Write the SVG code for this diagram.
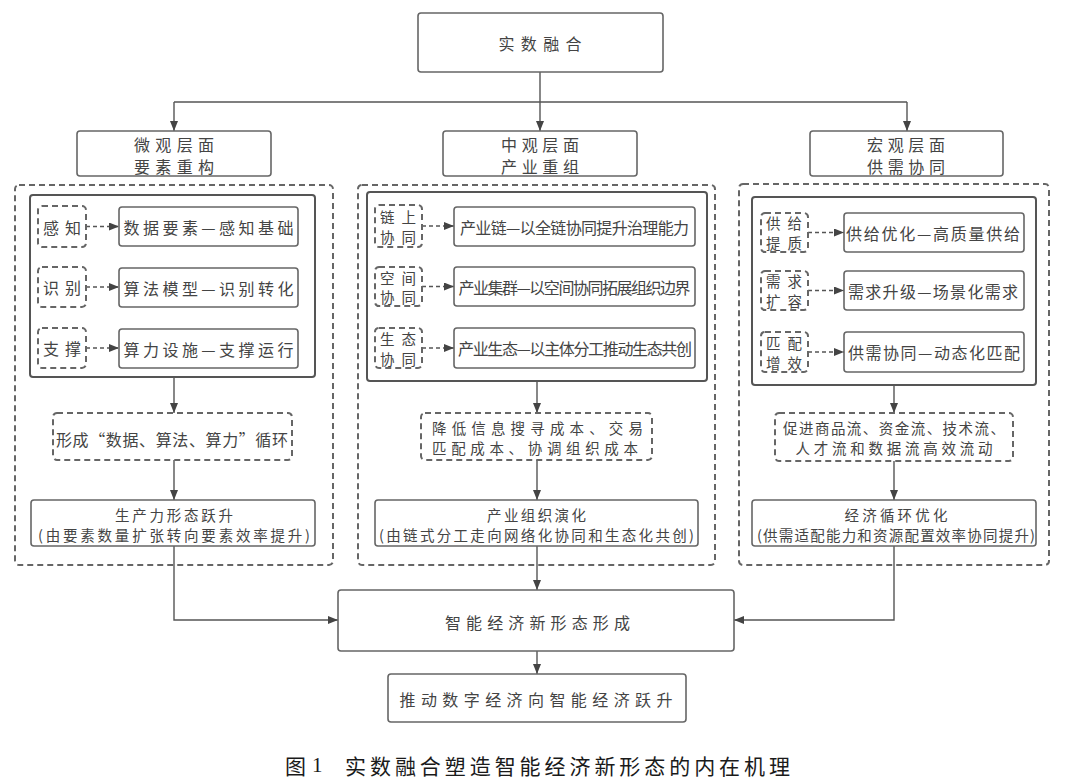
<svg xmlns="http://www.w3.org/2000/svg" width="1080" height="782" viewBox="0 0 1080 782">
<defs>
<marker id="ah" markerWidth="10" markerHeight="8" refX="10" refY="4" orient="auto" markerUnits="userSpaceOnUse"><path d="M0,0 L10,4 L0,8 Z" fill="#444"/></marker>
<style>
.t{font-family:"Noto Sans CJK SC","Noto Sans",sans-serif;fill:#444;font-size:16px;text-anchor:middle;dominant-baseline:central}
.t2{font-size:14.5px}
.s{fill:#fff;stroke:#666;stroke-width:1.6}
.in{fill:none;stroke:#555;stroke-width:2}
.d{fill:none;stroke:#666;stroke-width:2;stroke-dasharray:6 4}
.c{fill:none;stroke:#555;stroke-width:1.4}
.cd{fill:none;stroke:#555;stroke-width:1.4;stroke-dasharray:4 3}
.cap{font-family:"Noto Sans CJK SC","Noto Sans",sans-serif;fill:#1a1a1a;font-size:21px;dominant-baseline:central}
</style>
</defs>
<rect width="1080" height="782" fill="#fff"/>

<g id="connectors">
<path class="c" d="M540,72 V102"/>
<path class="c" d="M174,102 H907"/>
<path class="c" d="M174,102 V131" marker-end="url(#ah)"/>
<path class="c" d="M540,102 V131" marker-end="url(#ah)"/>
<path class="c" d="M907,102 V131" marker-end="url(#ah)"/>
<path class="cd" d="M86,226.5 H119" marker-end="url(#ah)"/>
<path class="cd" d="M86,287 H119" marker-end="url(#ah)"/>
<path class="cd" d="M86,348 H119" marker-end="url(#ah)"/>
<path class="c" d="M174,377 V413" marker-end="url(#ah)"/>
<path class="c" d="M174,460 V500" marker-end="url(#ah)"/>
<path class="c" d="M174,546 V620 H338" marker-end="url(#ah)"/>
<path class="cd" d="M422,226 H454" marker-end="url(#ah)"/>
<path class="cd" d="M422,286.5 H454" marker-end="url(#ah)"/>
<path class="cd" d="M422,348 H454" marker-end="url(#ah)"/>
<path class="c" d="M537,381 V413" marker-end="url(#ah)"/>
<path class="c" d="M537,460 V500" marker-end="url(#ah)"/>
<path class="c" d="M537,546 V590" marker-end="url(#ah)"/>
<path class="cd" d="M808,232.5 H844" marker-end="url(#ah)"/>
<path class="cd" d="M808,290.5 H844" marker-end="url(#ah)"/>
<path class="cd" d="M808,352 H844" marker-end="url(#ah)"/>
<path class="c" d="M894,385 V413" marker-end="url(#ah)"/>
<path class="c" d="M894,461 V500" marker-end="url(#ah)"/>
<path class="c" d="M894,546 V620 H734" marker-end="url(#ah)"/>
<path class="c" d="M537,651 V674" marker-end="url(#ah)"/>
</g>

<g id="top">
<rect class="s" x="418" y="13" width="245" height="59" rx="3"/>
<text class="t" x="540" y="43" textLength="83">实数融合</text>
</g>

<g id="micro-head">
<rect class="s" x="77" y="131" width="194" height="45" rx="3"/>
<text class="t" x="174" y="144" font-size="15.5" textLength="80">微观层面</text>
<text class="t" x="174" y="166" font-size="15.5" textLength="80">要素重构</text>
</g>
<g id="meso-head">
<rect class="s" x="443" y="131" width="194" height="45" rx="3"/>
<text class="t" x="540" y="144" font-size="15.5" textLength="78">中观层面</text>
<text class="t" x="540" y="166" font-size="15.5" textLength="78">产业重组</text>
</g>
<g id="macro-head">
<rect class="s" x="810" y="131" width="193" height="45" rx="3"/>
<text class="t" x="906" y="144" font-size="15.5" textLength="78">宏观层面</text>
<text class="t" x="906" y="166" font-size="15.5" textLength="78">供需协同</text>
</g>

<g id="micro">
<rect class="d" x="15" y="185" width="318" height="380" rx="4"/>
<rect class="in" x="30" y="195" width="285" height="182" rx="3"/>
<g id="m1"><rect class="d" x="38" y="206" width="48" height="41" rx="4"/><text class="t" x="62" y="226.5" textLength="38">感知</text></g>
<g id="m1b"><rect class="s" x="119" y="207" width="179" height="39" rx="3"/><text class="t" x="208.5" y="226.5" textLength="170">数据要素—感知基础</text></g>
<g id="m2"><rect class="d" x="38" y="267" width="48" height="40" rx="4"/><text class="t" x="62" y="287" textLength="38">识别</text></g>
<g id="m2b"><rect class="s" x="119" y="268" width="179" height="39" rx="3"/><text class="t" x="208.5" y="287.5" textLength="170">算法模型—识别转化</text></g>
<g id="m3"><rect class="d" x="38" y="328" width="48" height="40" rx="4"/><text class="t" x="62" y="348" textLength="38">支撑</text></g>
<g id="m3b"><rect class="s" x="119" y="329" width="179" height="39" rx="3"/><text class="t" x="208.5" y="348.5" textLength="170">算力设施—支撑运行</text></g>
<g id="m4"><rect class="d" x="53" y="413" width="239" height="47" rx="4"/><text class="t" x="172" y="439" textLength="232">形成“数据、算法、算力”循环</text></g>
<g id="m5"><rect class="s" x="31" y="500" width="284" height="46" rx="3"/>
<text class="t t2" x="174" y="514" textLength="118">生产力形态跃升</text>
<text class="t t2" x="174" y="534" textLength="272">(由要素数量扩张转向要素效率提升)</text></g>
</g>

<g id="meso">
<rect class="d" x="358" y="185" width="357" height="380" rx="4"/>
<rect class="in" x="367" y="192" width="340" height="189" rx="3"/>
<g id="z1"><rect class="d" x="375" y="205" width="47" height="42" rx="4"/><text class="t t2" x="398" y="216" textLength="36">链上</text><text class="t t2" x="398" y="236" textLength="36">协同</text></g>
<g id="z1b"><rect class="s" x="454" y="207" width="241" height="39" rx="3"/><text class="t" x="574.5" y="226.5" font-size="15" textLength="229">产业链—以全链协同提升治理能力</text></g>
<g id="z2"><rect class="d" x="375" y="267" width="47" height="39" rx="4"/><text class="t t2" x="398" y="277" textLength="36">空间</text><text class="t t2" x="398" y="296.5" textLength="36">协同</text></g>
<g id="z2b"><rect class="s" x="454" y="267" width="241" height="39" rx="3"/><text class="t" x="574.5" y="286.5" font-size="15" textLength="232">产业集群—以空间协同拓展组织边界</text></g>
<g id="z3"><rect class="d" x="375" y="328" width="47" height="40" rx="4"/><text class="t t2" x="398" y="338.5" textLength="36">生态</text><text class="t t2" x="398" y="358.5" textLength="36">协同</text></g>
<g id="z3b"><rect class="s" x="454" y="328" width="241" height="40" rx="3"/><text class="t" x="575" y="348" font-size="15" textLength="234">产业生态—以主体分工推动生态共创</text></g>
<g id="z4"><rect class="d" x="421" y="413" width="231" height="47" rx="4"/>
<text class="t t2" x="432" y="427" style="text-anchor:start" textLength="211">降低信息搜寻成本、交易</text>
<text class="t t2" x="432" y="447.5" style="text-anchor:start" textLength="206">匹配成本、协调组织成本</text></g>
<g id="z5"><rect class="s" x="375" y="500" width="323" height="46" rx="3"/>
<text class="t t2" x="536.5" y="514" textLength="99">产业组织演化</text>
<text class="t t2" x="536.5" y="534" textLength="315">(由链式分工走向网络化协同和生态化共创)</text></g>
</g>

<g id="macro">
<rect class="d" x="739" y="184" width="310" height="381" rx="4"/>
<rect class="in" x="752" y="197" width="284" height="188" rx="3"/>
<g id="h1"><rect class="d" x="761" y="213" width="47" height="39" rx="4"/><text class="t t2" x="784" y="222.5" textLength="36">供给</text><text class="t t2" x="784" y="242.5" textLength="36">提质</text></g>
<g id="h1b"><rect class="s" x="844" y="213" width="180" height="39" rx="3"/><text class="t" x="933" y="232.5" textLength="174">供给优化—高质量供给</text></g>
<g id="h2"><rect class="d" x="761" y="271" width="47" height="39" rx="4"/><text class="t t2" x="784" y="280.5" textLength="36">需求</text><text class="t t2" x="784" y="300.5" textLength="36">扩容</text></g>
<g id="h2b"><rect class="s" x="844" y="271" width="180" height="39" rx="3"/><text class="t" x="933" y="290.5" textLength="170">需求升级—场景化需求</text></g>
<g id="h3"><rect class="d" x="761" y="332" width="47" height="40" rx="4"/><text class="t t2" x="784" y="342" textLength="36">匹配</text><text class="t t2" x="784" y="362" textLength="36">增效</text></g>
<g id="h3b"><rect class="s" x="844" y="332" width="180" height="40" rx="3"/><text class="t" x="934" y="352" textLength="172">供需协同—动态化匹配</text></g>
<g id="h4"><rect class="d" x="775" y="413" width="238" height="48" rx="4"/>
<text class="t t2" x="894" y="427" textLength="222">促进商品流、资金流、技术流、</text>
<text class="t t2" x="894" y="447.5" textLength="197">人才流和数据流高效流动</text></g>
<g id="h5"><rect class="s" x="752" y="500" width="284" height="46" rx="3"/>
<text class="t t2" x="896" y="514" textLength="103">经济循环优化</text>
<text class="t t2" x="896" y="534" textLength="278">(供需适配能力和资源配置效率协同提升)</text></g>
</g>

<g id="result">
<rect class="s" x="338" y="590" width="396" height="61" rx="3"/>
<text class="t" x="537.5" y="622" textLength="185">智能经济新形态形成</text>
</g>
<g id="final">
<rect class="s" x="388" y="674" width="298" height="48" rx="3"/>
<text class="t" x="536" y="699" textLength="273">推动数字经济向智能经济跃升</text>
</g>

<g id="caption">
<text class="cap" x="285" y="765"><tspan>图</tspan><tspan font-family="Liberation Serif, serif" dx="6">1</tspan></text>
<text class="cap" x="345" y="765" textLength="445">实数融合塑造智能经济新形态的内在机理</text>
</g>
</svg>
